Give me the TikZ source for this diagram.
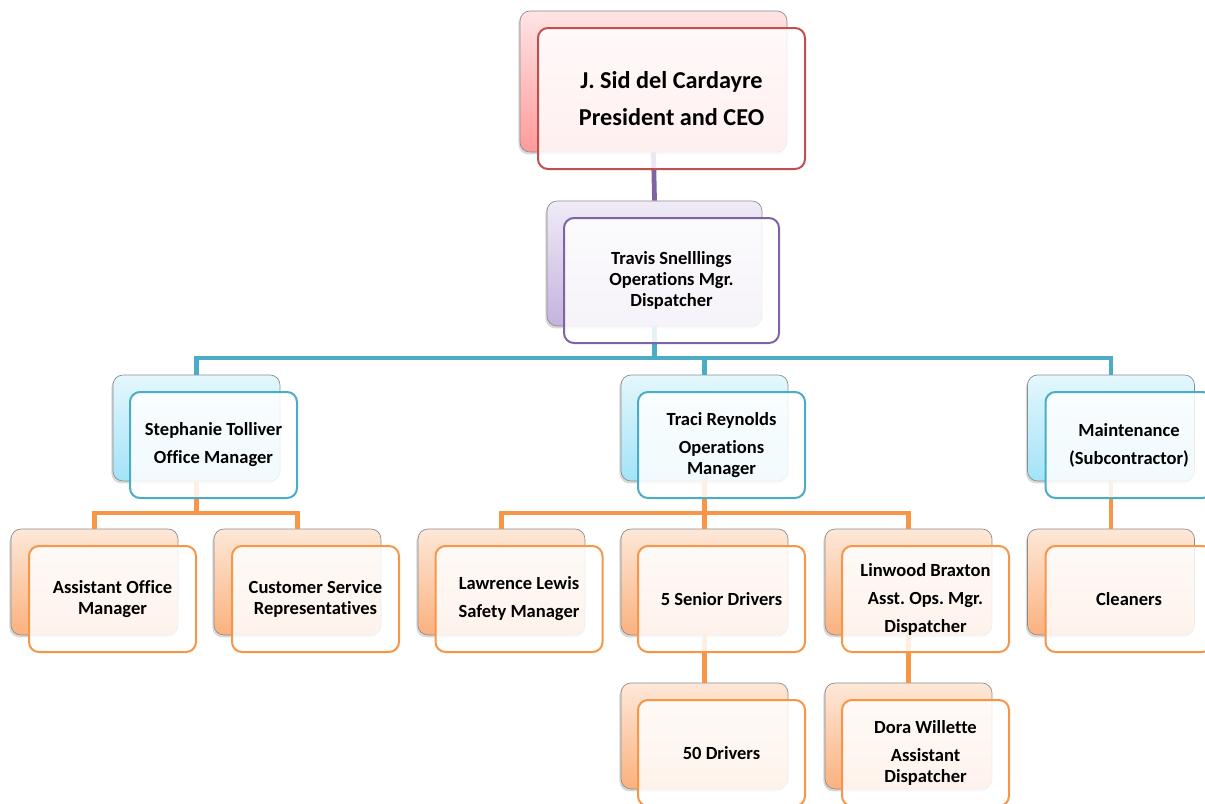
\documentclass[tikz,border=0pt]{standalone}
\usepackage{fontspec}
\setmainfont{Carlito}[Ligatures=NoCommon]
\frenchspacing
\usetikzlibrary{shadows}

\definecolor{redline}{HTML}{C0504D}
\definecolor{purpleline}{HTML}{8064A2}
\definecolor{tealline}{HTML}{4BACC6}
\definecolor{orangeline}{HTML}{F79646}
\definecolor{redtop}{HTML}{FFE4E4}
\definecolor{redbot}{HTML}{FF9A9A}
\definecolor{purpletop}{HTML}{F0EBF7}
\definecolor{purplebot}{HTML}{C4B2DE}
\definecolor{bluetop}{HTML}{E4F7FD}
\definecolor{bluebot}{HTML}{A2E3F7}
\definecolor{orangetop}{HTML}{FDE8D8}
\definecolor{orangebot}{HTML}{FBB17E}

\begin{document}
\begin{tikzpicture}[x=0.75pt,y=-0.75pt,
  backbox/.style={rounded corners=7.5pt, draw=black!45, line width=0.5pt,
    minimum width=125.25pt, minimum height=79.5pt, inner sep=0pt,
    drop shadow={shadow xshift=-1.2pt, shadow yshift=-1.8pt, opacity=0.3}},
  frontbox/.style={rounded corners=7.5pt, line width=1.5pt,
    minimum width=125.25pt, minimum height=79.5pt, inner sep=1pt,
    fill=white, fill opacity=0.85, text opacity=1, align=center,
    font=\fontsize{13.9}{15.75}\selectfont\bfseries},
  redback/.style={backbox, top color=redtop, bottom color=redbot,
    minimum width=200.25pt, minimum height=105.75pt},
  redfront/.style={frontbox, draw=redline,
    minimum width=200.25pt, minimum height=105.75pt,
    font=\fontsize{18.2}{27.75}\selectfont\bfseries},
  purpleback/.style={backbox, top color=purpletop, bottom color=purplebot,
    minimum width=161.25pt, minimum height=93.75pt},
  purplefront/.style={frontbox, draw=purpleline,
    minimum width=161.25pt, minimum height=93.75pt},
  blueback/.style={backbox, top color=bluetop, bottom color=bluebot},
  bluefront/.style={frontbox, draw=tealline},
  orangeback/.style={backbox, top color=orangetop, bottom color=orangebot},
  orangefront/.style={frontbox, draw=orangeline},
  link/.style={line width=3.6pt}
]
\useasboundingbox (0,0) rectangle (1205,803);

% shaded back plates
\node[redback]    (ceoB)   at (653.5,81.5)  {};
\node[purpleback] (travB)  at (654.5,263.5) {};
\node[blueback]   (stephB) at (196.5,428)   {};
\node[blueback]   (traciB) at (704.5,428)   {};
\node[blueback]   (maintB) at (1111,428)    {};
\node[orangeback] (aomB)   at (94.5,582)    {};
\node[orangeback] (csrB)   at (297.5,582)   {};
\node[orangeback] (lawB)   at (501.5,582)   {};
\node[orangeback] (senB)   at (704.5,582)   {};
\node[orangeback] (linB)   at (908.5,582)   {};
\node[orangeback] (clnB)   at (1111,582)    {};
\node[orangeback] (drvB)   at (704.5,736)   {};
\node[orangeback] (doraB)  at (908.5,736)   {};

% reporting lines
\draw[link, purpleline] (ceoB.south) -- (travB.north);

\coordinate (busT) at (654.5,358);
\draw[link, tealline] (travB.south) -- (busT);
\draw[link, tealline] (stephB.north) |- (busT) -| (maintB.north);
\draw[link, tealline] (busT) -| (traciB.north);

\coordinate (busS) at (196.5,513);
\draw[link, orangeline] (stephB.south) -- (busS);
\draw[link, orangeline] (aomB.north) |- (busS) -| (csrB.north);

\coordinate (busR) at (704.5,513);
\draw[link, orangeline] (traciB.south) -- (busR);
\draw[link, orangeline] (lawB.north) |- (busR) -| (linB.north);
\draw[link, orangeline] (busR) -- (senB.north);

\draw[link, orangeline] (maintB.south) -- (clnB.north);
\draw[link, orangeline] (senB.south) -- (drvB.north);
\draw[link, orangeline] (linB.south) -- (doraB.north);

% front cards with the names
\node[redfront] (ceo) at (671.5,98.5) {J. Sid del Cardayre\\President and CEO};
\node[purplefront] (trav) at (671.5,280.5) {Travis Snelllings\\Operations Mgr.\\Dispatcher};
\node[bluefront] (steph) at (213.5,445) {Stephanie Tolliver\\[5.25pt]Office Manager};
\node[bluefront] (traci) at (721.5,445) {Traci Reynolds\\[5.25pt]Operations\\Manager};
\node[bluefront] (maint) at (1129,445) {Maintenance\\[5.25pt](Subcontractor)};
\node[orangefront] (aom) at (112.5,599) {Assistant Office\\Manager};
\node[orangefront] (csr) at (315.5,599) {Customer Service\\Representatives};
\node[orangefront] (law) at (519,599) {Lawrence Lewis\\[5.25pt]Safety Manager};
\node[orangefront] (sen) at (721.5,599) {5 Senior Drivers};
\node[orangefront] (lin) at (925.5,599) {Linwood Braxton\\[5.25pt]Asst. Ops. Mgr.\\[5.25pt]Dispatcher};
\node[orangefront] (cln) at (1129,599) {Cleaners};
\node[orangefront] (drv) at (721.5,753) {50 Drivers};
\node[orangefront] (dora) at (925.5,753) {Dora Willette\\[5.25pt]Assistant\\Dispatcher};
\end{tikzpicture}
\end{document}
